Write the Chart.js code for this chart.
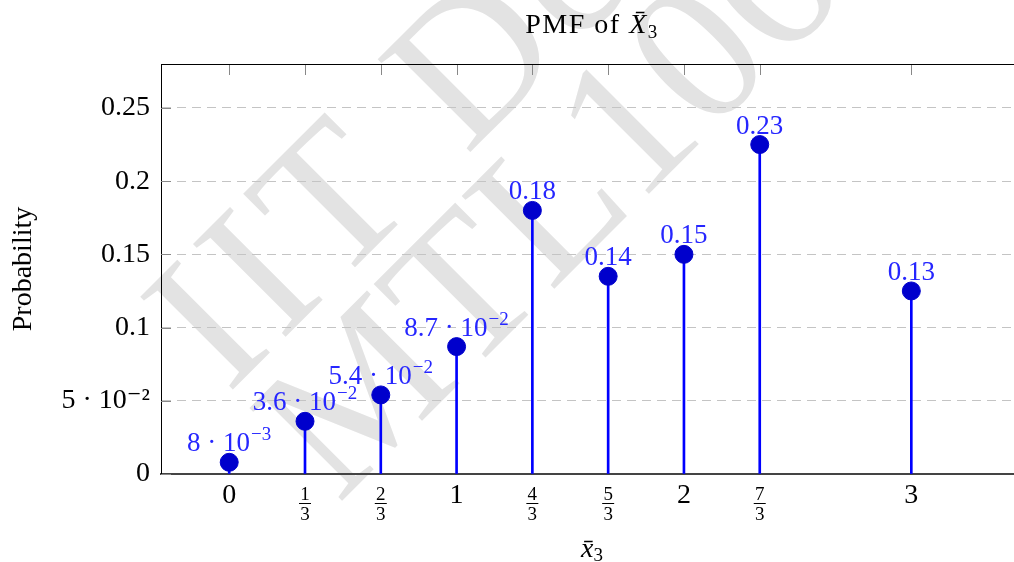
<!DOCTYPE html>
<html lang="en">
<head>
<meta charset="UTF-8">
<title>PMF of X̄3</title>
<script src="https://cdn.jsdelivr.net/npm/chart.js"></script>
<style>
    html, body {
        margin: 0;
        height: 100%;
        overflow: hidden; /* plot box runs past the right edge, like the original */
        background: #fff;
    }
    .chart-box {
        position: absolute;
        left: 0;
        top: 0;
        width: 1040px;
        height: 562px;
    }
</style>
</head>
<body>
<div class="chart-box"><canvas id="pmfChart"></canvas></div>
<script>
    // values
    const xValues = [0, 1/3, 2/3, 1, 4/3, 5/3, 2, 7/3, 3];
    const xTickLabels = ['0', '1/3', '2/3', '1', '4/3', '5/3', '2', '7/3', '3'];
    const probabilities = [0.008, 0.036, 0.054, 0.087, 0.18, 0.135, 0.15, 0.225, 0.125];
    const pointLabels = ['8 · 10^−3', '3.6 · 10^−2', '5.4 · 10^−2', '8.7 · 10^−2', '0.18', '0.14', '0.15', '0.23', '0.13'];
    const yTicks = [0, 0.05, 0.1, 0.15, 0.2, 0.25];
    const yTickLabels = ['0', '5 · 10⁻²', '0.1', '0.15', '0.2', '0.25'];

    const SERIF = "'Liberation Serif', 'DejaVu Serif', serif";
    const points = xValues.map((x, i) => ({ x: x, y: probabilities[i] }));

    // text with an optional raised exponent, "base^exp", centred on x
    function drawPower(ctx, text, x, y, size) {
        const parts = text.split('^');
        const expSize = Math.round(size * 0.7);
        ctx.font = size + 'px ' + SERIF;
        const wBase = ctx.measureText(parts[0]).width;
        let wExp = 0;
        if (parts[1]) {
            ctx.font = expSize + 'px ' + SERIF;
            wExp = ctx.measureText(parts[1]).width + 1;
        }
        const left = x - (wBase + wExp) / 2;
        ctx.textAlign = 'left';
        ctx.font = size + 'px ' + SERIF;
        ctx.fillText(parts[0], left, y);
        if (parts[1]) {
            ctx.font = expSize + 'px ' + SERIF;
            ctx.fillText(parts[1], left + wBase + 1, y - size * 0.4);
        }
    }

    const watermark = {
        id: 'watermark',
        beforeDraw(chart) {
            const ctx = chart.ctx;
            ctx.save();
            ctx.fillStyle = '#e3e3e3';
            ctx.font = '200px ' + SERIF;
            ctx.textAlign = 'left';
            ctx.textBaseline = 'alphabetic';
            ctx.rotate(-Math.PI / 4);
            ctx.letterSpacing = '8px';
            ctx.fillText('IIT Delhi', -118, 440);
            ctx.letterSpacing = '0px';
            ctx.fillText('MTL106', -118, 596);
            ctx.restore();
        }
    };

    const frame = {
        id: 'frame',
        beforeDatasetsDraw(chart) {
            const ctx = chart.ctx;
            const area = chart.chartArea;
            const xs = chart.scales.x;
            const ys = chart.scales.y;
            ctx.save();
            ctx.strokeStyle = '#888';
            ctx.lineWidth = 1;
            ctx.beginPath();
            xValues.forEach(v => {
                const px = Math.round(xs.getPixelForValue(v)) + 0.5;
                ctx.moveTo(px, area.top);
                ctx.lineTo(px, area.top + 11);
            });
            yTicks.forEach(v => {
                const py = Math.round(ys.getPixelForValue(v)) + 0.5;
                ctx.moveTo(area.left, py);
                ctx.lineTo(area.left + 10, py);
            });
            ctx.stroke();
            ctx.strokeStyle = '#000';
            ctx.beginPath();
            ctx.moveTo(area.left, area.top + 0.5);
            ctx.lineTo(area.right, area.top + 0.5);
            ctx.stroke();
            ctx.restore();
        }
    };

    const labels = {
        id: 'labels',
        afterDatasetsDraw(chart) {
            const ctx = chart.ctx;
            const xs = chart.scales.x;
            const ys = chart.scales.y;
            ctx.save();
            ctx.textBaseline = 'alphabetic';

            // value labels over each marker
            ctx.fillStyle = '#2626ff';
            points.forEach((p, i) => {
                drawPower(ctx, pointLabels[i], xs.getPixelForValue(p.x), ys.getPixelForValue(p.y) - 11, 27);
            });

            // x tick labels, fractions stacked
            ctx.fillStyle = '#000';
            ctx.strokeStyle = '#000';
            ctx.textAlign = 'center';
            xValues.forEach((v, i) => {
                const px = xs.getPixelForValue(v);
                const parts = xTickLabels[i].split('/');
                if (parts.length === 1) {
                    ctx.font = '28px ' + SERIF;
                    ctx.fillText(parts[0], px, 503);
                } else {
                    ctx.font = '19px ' + SERIF;
                    ctx.fillText(parts[0], px, 500);
                    ctx.fillText(parts[1], px, 520);
                    ctx.lineWidth = 1;
                    ctx.beginPath();
                    ctx.moveTo(px - 6, 503.5);
                    ctx.lineTo(px + 6, 503.5);
                    ctx.stroke();
                }
            });

            // title and x axis title
            function mathText(pieces, cx, baseline, spacing) {
                ctx.letterSpacing = spacing || '0px';
                let total = 0;
                pieces.forEach(pc => { ctx.font = pc.font; pc.w = ctx.measureText(pc.t).width; total += pc.w; });
                let left = cx - total / 2;
                ctx.textAlign = 'left';
                pieces.forEach(pc => {
                    ctx.font = pc.font;
                    ctx.fillText(pc.t, left, baseline + (pc.dy || 0));
                    left += pc.w;
                });
                ctx.letterSpacing = '0px';
            }
            mathText([
                { t: 'PMF of ', font: '28px ' + SERIF },
                { t: 'X\u0304', font: 'italic 28px ' + SERIF },
                { t: '3', font: '19px ' + SERIF, dy: 5 }
            ], 592, 33, '1.5px');
            mathText([
                { t: 'x\u0304', font: 'italic 28px ' + SERIF },
                { t: '3', font: '19px ' + SERIF, dy: 4 }
            ], 592, 557);
            ctx.restore();
        }
    };

    new Chart(document.getElementById('pmfChart'), {
        type: 'scatter',
        data: {
            datasets: [
                {
                    type: 'scatter',
                    data: points,
                    backgroundColor: '#0000cc',
                    borderColor: '#0000cc',
                    pointRadius: 9,
                    pointHoverRadius: 9,
                    order: 0
                },
                {
                    type: 'bar',
                    data: points,
                    backgroundColor: '#0000ff',
                    barThickness: 2,
                    order: 1
                }
            ]
        },
        options: {
            responsive: true,
            maintainAspectRatio: false,
            animation: false,
            events: [],
            layout: { padding: { top: 64, right: 15, left: 0, bottom: 0 } },
            plugins: {
                legend: { display: false },
                tooltip: { enabled: false }
            },
            scales: {
                x: {
                    type: 'linear',
                    min: -0.3,
                    max: 3.5,
                    offset: false,
                    afterBuildTicks: s => { s.ticks = xValues.map(v => ({ value: v })); },
                    afterFit: s => { s.height = 88; },
                    ticks: { display: false },
                    grid: { display: false, offset: false },
                    border: { display: true, color: '#444', width: 2 }
                },
                y: {
                    min: 0,
                    max: 0.28,
                    afterBuildTicks: s => { s.ticks = yTicks.map(v => ({ value: v })); },
                    afterFit: s => { s.width = 161; },
                    ticks: {
                        padding: 11,
                        color: '#000',
                        font: { family: SERIF, size: 28 },
                        callback: (v, i) => yTickLabels[i]
                    },
                    grid: { color: '#c4c4c4', lineWidth: 1, drawTicks: false },
                    border: { color: '#000', width: 1, dash: [9, 6] },
                    title: {
                        display: true,
                        text: 'Probability',
                        color: '#000',
                        font: { family: SERIF, size: 28 },
                        padding: { top: 7, bottom: 0 }
                    }
                }
            }
        },
        plugins: [watermark, frame, labels]
    });
</script>
</body>
</html>
